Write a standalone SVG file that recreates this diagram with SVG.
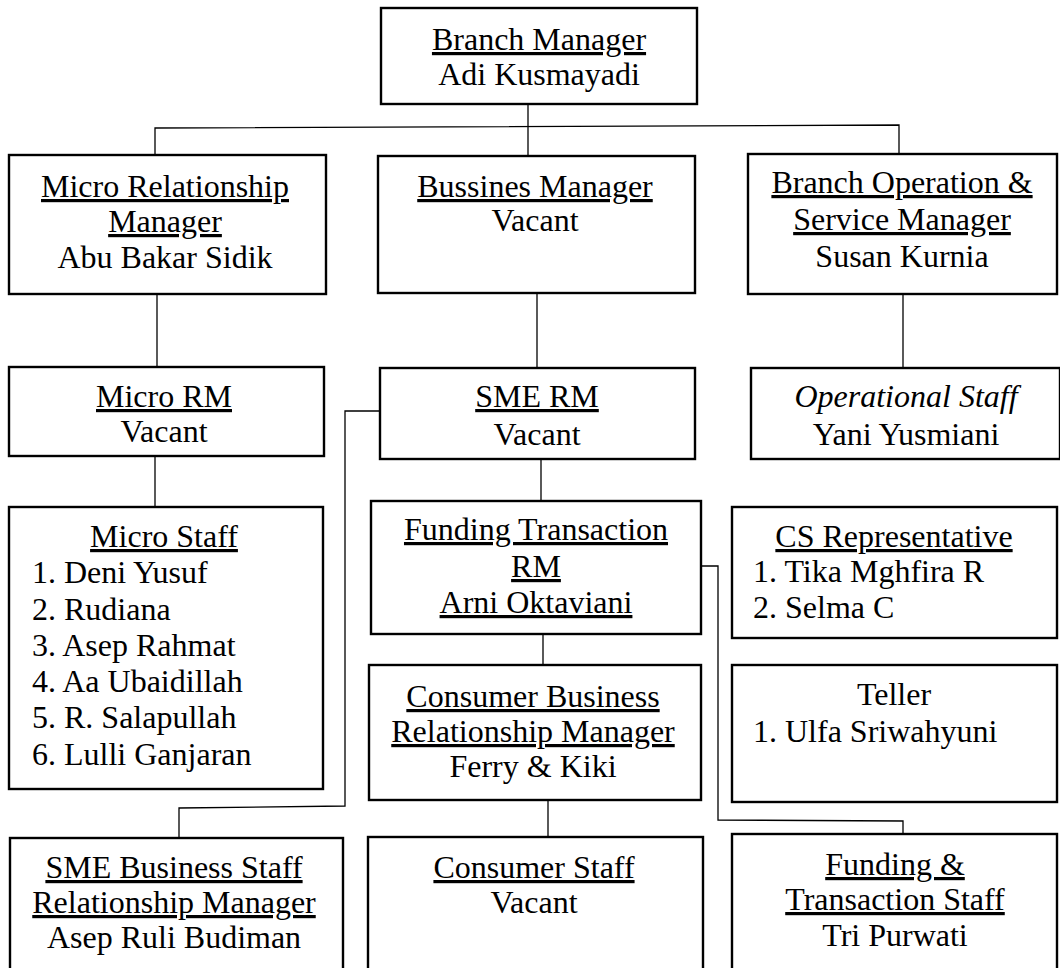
<svg xmlns="http://www.w3.org/2000/svg" width="1060" height="968" viewBox="0 0 1060 968">
<style>
.box{fill:#fff;stroke:#000;stroke-width:2.4}
.c{fill:none;stroke:#000;stroke-width:1.3}
text{font-family:"Liberation Serif","Times New Roman",serif;font-size:32px;fill:#000}
.m{text-anchor:middle}
.u{text-decoration:underline}
.i{font-style:italic}
</style>
<rect width="1060" height="968" fill="#fff"/>
<g id="connectors">
<path class="c" d="M528,104V156"/>
<path class="c" d="M155,155V128L899,125V154"/>
<path class="c" d="M157,294V367"/>
<path class="c" d="M537,293V368"/>
<path class="c" d="M903,294V368"/>
<path class="c" d="M155,456V507"/>
<path class="c" d="M541,459V501"/>
<path class="c" d="M543,634V665"/>
<path class="c" d="M548,800V837"/>
<path class="c" d="M380,411H345V806L179,808V838"/>
<path class="c" d="M701,566H718V820L903,821V834"/>
</g>
<g id="branch-manager">
<rect class="box" x="381" y="8" width="316" height="96"/>
<text class="m u" x="539" y="50">Branch Manager</text>
<text class="m" x="539" y="85">Adi Kusmayadi</text>
</g>
<g id="micro-relationship-manager">
<rect class="box" x="9" y="155" width="317" height="139"/>
<text class="m u" x="165" y="197">Micro Relationship</text>
<text class="m u" x="165" y="232">Manager</text>
<text class="m" x="165" y="268">Abu Bakar Sidik</text>
</g>
<g id="bussines-manager">
<rect class="box" x="378" y="156" width="317" height="137"/>
<text class="m u" x="535" y="197">Bussines Manager</text>
<text class="m" x="535" y="231">Vacant</text>
</g>
<g id="branch-operation">
<rect class="box" x="748" y="154" width="309" height="140"/>
<text class="m u" x="902" y="193">Branch Operation &amp;</text>
<text class="m u" x="902" y="230">Service Manager</text>
<text class="m" x="902" y="267">Susan Kurnia</text>
</g>
<g id="micro-rm">
<rect class="box" x="9" y="367" width="315" height="89"/>
<text class="m u" x="164" y="407">Micro RM</text>
<text class="m" x="164" y="442">Vacant</text>
</g>
<g id="sme-rm">
<rect class="box" x="380" y="368" width="315" height="91"/>
<text class="m u" x="537" y="407">SME RM</text>
<text class="m" x="537" y="445">Vacant</text>
</g>
<g id="operational-staff">
<rect class="box" x="751" y="368" width="309" height="91"/>
<text class="m i" x="906" y="407">Operational Staff</text>
<text class="m" x="906" y="445">Yani Yusmiani</text>
</g>
<g id="micro-staff">
<rect class="box" x="9" y="507" width="314" height="282"/>
<text class="m u" x="164" y="547">Micro Staff</text>
<text x="32" y="583">1. Deni Yusuf</text>
<text x="32" y="620">2. Rudiana</text>
<text x="32" y="656">3. Asep Rahmat</text>
<text x="32" y="692">4. Aa Ubaidillah</text>
<text x="32" y="728">5. R. Salapullah</text>
<text x="32" y="765">6. Lulli Ganjaran</text>
</g>
<g id="funding-transaction-rm">
<rect class="box" x="371" y="501" width="330" height="133"/>
<text class="m u" x="536" y="540">Funding Transaction</text>
<text class="m u" x="536" y="577">RM</text>
<text class="m u" x="536" y="613">Arni Oktaviani</text>
</g>
<g id="cs-representative">
<rect class="box" x="732" y="507" width="325" height="131"/>
<text class="m u" x="894" y="547">CS Representative</text>
<text x="753" y="582">1. Tika Mghfira R</text>
<text x="753" y="618">2. Selma C</text>
</g>
<g id="consumer-business-rm">
<rect class="box" x="369" y="665" width="332" height="135"/>
<text class="m u" x="533" y="707">Consumer Business</text>
<text class="m u" x="533" y="742">Relationship Manager</text>
<text class="m" x="533" y="777">Ferry &amp; Kiki</text>
</g>
<g id="teller">
<rect class="box" x="732" y="665" width="325" height="137"/>
<text class="m" x="894" y="705">Teller</text>
<text x="753" y="742">1. Ulfa Sriwahyuni</text>
</g>
<g id="sme-business-staff">
<rect class="box" x="10" y="838" width="333" height="142"/>
<text class="m u" x="174" y="878">SME Business Staff</text>
<text class="m u" x="174" y="913">Relationship Manager</text>
<text class="m" x="174" y="948">Asep Ruli Budiman</text>
</g>
<g id="consumer-staff">
<rect class="box" x="368" y="837" width="335" height="143"/>
<text class="m u" x="534" y="878">Consumer Staff</text>
<text class="m" x="534" y="913">Vacant</text>
</g>
<g id="funding-transaction-staff">
<rect class="box" x="732" y="834" width="325" height="146"/>
<text class="m u" x="895" y="875">Funding &amp;</text>
<text class="m u" x="895" y="910">Transaction Staff</text>
<text class="m" x="895" y="946">Tri Purwati</text>
</g>
</svg>
